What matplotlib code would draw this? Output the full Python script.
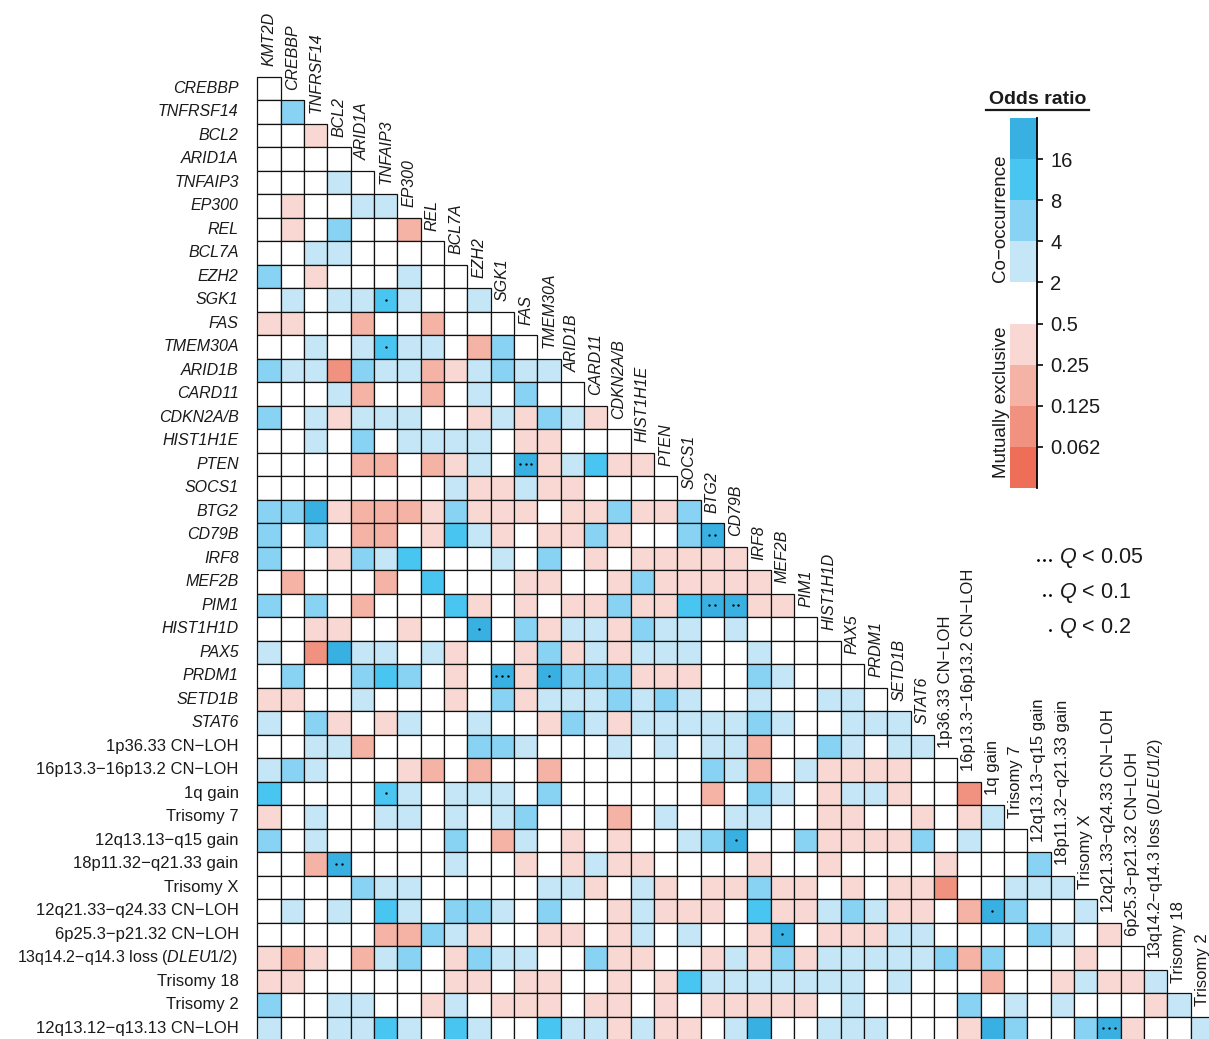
import matplotlib
matplotlib.use("Agg")
import matplotlib.pyplot as plt
import numpy as np
from matplotlib.colors import ListedColormap, BoundaryNorm
from matplotlib.patches import Rectangle
from matplotlib.lines import Line2D

plt.rcParams['font.family'] = ['Liberation Sans', 'DejaVu Sans']
plt.rcParams['mathtext.fontset'] = 'custom'
plt.rcParams['mathtext.rm'] = 'Liberation Sans'
plt.rcParams['mathtext.it'] = 'Liberation Sans:italic'
plt.rcParams['mathtext.bf'] = 'Liberation Sans:bold'

# ---------------- data ----------------
col_labels = ["KMT2D", "CREBBP", "TNFRSF14", "BCL2", "ARID1A", "TNFAIP3", "EP300",
              "REL", "BCL7A", "EZH2", "SGK1", "FAS", "TMEM30A", "ARID1B", "CARD11",
              "CDKN2A/B", "HIST1H1E", "PTEN", "SOCS1", "BTG2", "CD79B", "IRF8", "MEF2B",
              "PIM1", "HIST1H1D", "PAX5", "PRDM1", "SETD1B", "STAT6",
              "1p36.33 CN\u2212LOH", "16p13.3\u221216p13.2 CN\u2212LOH", "1q gain",
              "Trisomy 7", "12q13.13\u2212q15 gain", "18p11.32\u2212q21.33 gain",
              "Trisomy X", "12q21.33\u2212q24.33 CN\u2212LOH", "6p25.3\u2212p21.32 CN\u2212LOH",
              "13q14.2\u2212q14.3 loss ($\\mathit{DLEU1/2}$)", "Trisomy 18", "Trisomy 2"]
row_labels = col_labels[1:] + ["12q13.12\u2212q13.13 CN\u2212LOH"]
n_genes = 29  # first 29 column labels are genes (italic)

# odds-ratio class of each cell, row by row (row i has i+1 cells)
# 0: 0.5-2, a: 2-4, b: 4-8, c: 8-16, d: >16, p: 0.25-0.5, q: 0.125-0.25, r: 0.062-0.125
cell_codes = [
    "0",
    "0b",
    "00p",
    "0000",
    "000a0",
    "0p00aa",
    "0p0b00q",
    "00aa0000",
    "b0p000a00",
    "0a0aaca00a",
    "pp00q00q000",
    "00a0acaa0qb0",
    "baarbaaqpabaa",
    "000aq00q0a0b00",
    "b0apaaa00papbap",
    "00a0b0aaaa0pp000",
    "0000qq0qpa0dpacpp",
    "00000000appapp0000",
    "bbdpqqqpbppp0ppbppb",
    "b0b0qq0pcap0ppbp00bd",
    "b00pbac000a0b0p0ppppp",
    "0q000q0c000pp00pbppppp",
    "b0b0q000cp0p0ppbppcddpp",
    "00pp00p00d0bpaapbaa0a000",
    "a0rdaa0ap00pbpapaaa00a000",
    "0b00bcb0p0dpdbbbppp00ba000",
    "pp00a000p0bpaaababa00a00aa0",
    "a0bp0pa00a00pbapaaaaaba00aaa",
    "00aaq0000bba000a0a0aaq00ba0aa",
    "aba000pq0q00q000000baq0apppp00",
    "c0000ca0aaa0b000000q0ba0paap00r",
    "p0a00aa0a0ab000q0a00aa00pp00p0pa",
    "b0a00000b0qa0p0p00abd00bppppb0a00",
    "00qd0000a00p0papp0000p00p0000p000b",
    "0000baa00000aap0ap0ppbpp0p0ppr00aaa",
    "0a0a0ca0bba0b00pappp0cppabapp0qdb00a",
    "00000qqbap00pp0pa0a00pd0pppaa0000ba0p",
    "pqp0qab0pbaa00bpp00papbpaaaaabqb000p00",
    "pp000000pp0pp00p0pcaaaaaaa0a000q00pappa",
    "b00aa00pa0ppp0pp0p0ppppp0a0000b0a0a000pa",
    "a00aaca0ca00caapapp0ad00aaa000pdb00bdp00a",
]
code_odds = {'0': 1.0, 'a': 3.0, 'b': 6.0, 'c': 12.0, 'd': 24.0,
             'p': 0.35, 'q': 0.18, 'r': 0.09, 's': 0.04}

# Q-value significance marks: (row, col, number of dots)
q_rows = [9, 11, 16, 19, 22, 22, 23, 25, 25, 30, 32, 33, 35, 36, 40]
q_cols = [5, 5, 11, 19, 19, 20, 9, 10, 12, 5, 20, 3, 31, 22, 36]
q_dots = [1, 1, 3, 2, 2, 2, 1, 3, 1, 1, 1, 2, 1, 1, 3]

bin_edges_log2 = [-6, -4, -3, -2, -1, 1, 2, 3, 4, 6]
bin_colors = ['#EE6E57', '#F1917F', '#F5B3A6', '#F9D8D3', '#FFFFFF',
              '#C4E6F6', '#88D3F3', '#48C5F0', '#38B0E2']
legend_ticklabels = ["0.062", "0.125", "0.25", "0.5", "2", "4", "8", "16"]

# ---------------- figure ----------------
W, H = 1209, 1039
fig = plt.figure(figsize=(W / 100, H / 100), dpi=100)
cmap = ListedColormap(bin_colors)
norm = BoundaryNorm(bin_edges_log2, cmap.N)

cw, ch = 23.33, 23.5
x0, y0 = 257.3, 76.7
n = len(col_labels)
ax = fig.add_axes([x0 / W, (H - (y0 + n * ch)) / H, n * cw / W, n * ch / H])
ax.set_xlim(0, n)
ax.set_ylim(n, 0)
ax.axis('off')

for r, codes in enumerate(cell_codes):
    for c, code in enumerate(codes):
        val = np.log2(code_odds[code])
        ax.add_patch(Rectangle((c, r), 1, 1, facecolor=cmap(norm(val)),
                               edgecolor='#111111', linewidth=0.9, clip_on=False))

# significance dots
for r, c, k in zip(q_rows, q_cols, q_dots):
    offs = {1: [0.0], 2: [-0.12, 0.12], 3: [-0.25, 0.0, 0.25]}[k]
    ax.plot([c + 0.5 + o for o in offs], [r + 0.5] * k, 'o', ms=1.7, mew=0,
            color='black', clip_on=False)


def label_size(lab, is_gene):
    if is_gene or 'DLEU' in lab:
        return 11.5
    return 12.0


for r, lab in enumerate(row_labels):
    it = (r + 1) < n_genes
    ax.text(-0.8, r + 0.5, lab, ha='right', va='center',
            fontsize=label_size(lab, it),
            style='italic' if it else 'normal', color='#1a1a1a')
for c, lab in enumerate(col_labels):
    it = c < n_genes
    ax.text(c + 0.5, c - 0.45, lab, ha='center', va='bottom', rotation=90,
            fontsize=label_size(lab, it), style='italic' if it else 'normal',
            color='#1a1a1a', clip_on=False)

# ---------------- legend: colour key ----------------
top, bot = 118.0, 488.0
cax = fig.add_axes([1010 / W, (H - bot) / H, 26.5 / W, (bot - top) / H])
nb = len(bin_colors)
cax.bar([0.5] * nb, [1] * nb, bottom=np.arange(nb), width=1.0, color=bin_colors,
        linewidth=0)
cax.set_xlim(0, 1)
cax.set_ylim(0, nb)
cax.set_yticks(np.arange(1, nb))
cax.set_yticklabels(legend_ticklabels)
cax.yaxis.tick_right()
cax.set_xticks([])
for s in ['top', 'left', 'bottom']:
    cax.spines[s].set_visible(False)
cax.spines['right'].set_linewidth(1.3)
cax.tick_params(axis='y', length=4, width=1.3, labelsize=14.5, pad=6,
                colors='#1a1a1a')

ov = fig.add_axes([0, 0, 1, 1], facecolor='none')
ov.set_xlim(0, W)
ov.set_ylim(H, 0)
ov.axis('off')
ov.text(1038, 100, "Odds ratio", ha='center', va='center', fontsize=14,
        fontweight='bold', color='#1a1a1a')
ov.add_line(Line2D([986, 1089], [110, 110], color='#1a1a1a', lw=1.6))
ov.text(1001, 218, "Co\u2212occurrence", ha='center', va='center', rotation=90,
        fontsize=13.5, color='#1a1a1a')
ov.text(1001, 402, "Mutually exclusive", ha='center', va='center', rotation=90,
        fontsize=13.5, color='#1a1a1a')

# ---------------- legend: Q values ----------------
q_legend = ["$Q$ < 0.05", "$Q$ < 0.1", "$Q$ < 0.2"]
q_legend_dots = [3, 2, 1]
for i, (t, k) in enumerate(zip(q_legend, q_legend_dots)):
    yy = 558 + i * 35
    ov.text(1059, yy, t, ha='left', va='center', fontsize=15.5, color='#1a1a1a')
    xs = [1050 - 6 * j for j in range(k)]
    ov.plot(xs, [yy + 2] * k, 'o', ms=2.0, mew=0, color='black')

fig.savefig("out.png", dpi=100)
